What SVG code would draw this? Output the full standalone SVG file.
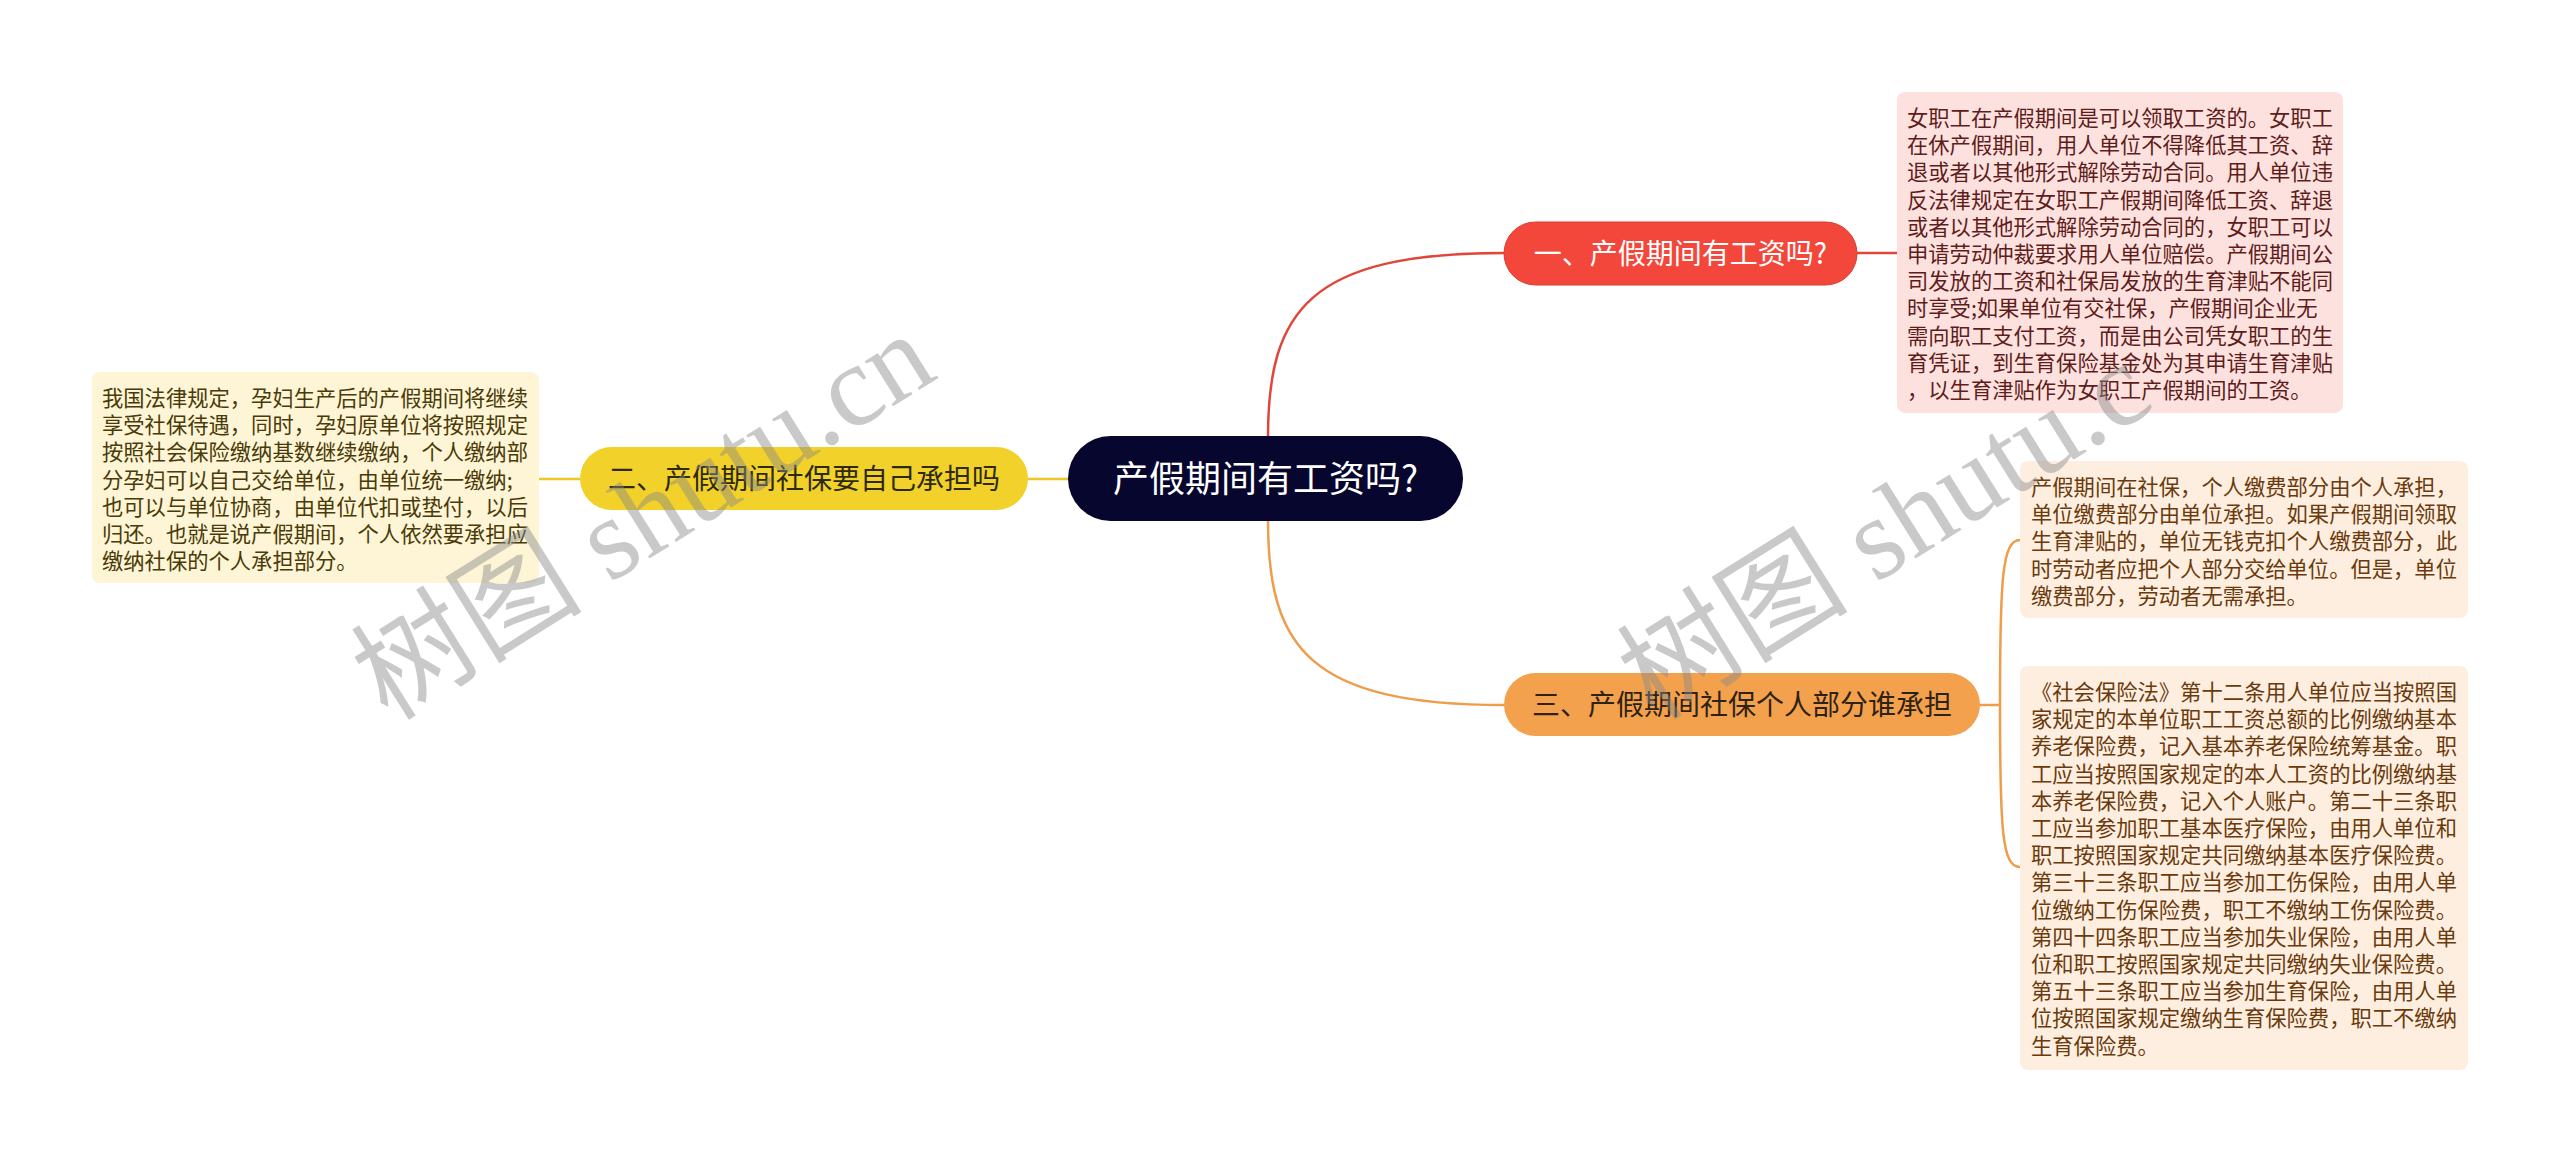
<svg xmlns="http://www.w3.org/2000/svg" width="2560" height="1163" viewBox="0 0 2560 1163">
<style>
.cjk{font-family:"Noto Sans CJK SC","Noto Sans",sans-serif}
.box{font-size:21.3px}
.conn{fill:none;stroke-width:2.5}
.wm{font-family:"Liberation Serif","Noto Sans CJK SC",serif;font-size:116px;fill:#8a8a8a;opacity:0.45}
</style>
<rect x="0" y="0" width="2560" height="1163" fill="#ffffff"/>
<g id="connectors">
<path class="conn" stroke="#e0473b" d="M1268,437 C1268,310 1310,253 1504,253"/>
<path class="conn" stroke="#ee9d4c" d="M1268,521 C1268,648 1310,705 1504,705"/>
<path class="conn" stroke="#ebc824" d="M1068,479 H1028 M580,479 H539"/>
<path class="conn" stroke="#e0473b" d="M1857,253 H1897"/>
<path class="conn" stroke="#ee9d4c" d="M1980,705 H2000 M2000,705 C2000,580 2002,540 2020,540 M2000,705 C2000,830 2002,867 2020,867"/>
</g>
<g id="root">
<rect x="1068" y="436" width="395" height="85" rx="42.5" fill="#06062e"/>
<text class="cjk" x="1265.5" y="492" font-size="36" fill="#ffffff" text-anchor="middle">产假期间有工资吗?</text>
</g>
<g id="n1">
<rect x="1504" y="222" width="353" height="63" rx="31.5" fill="#f3473b" stroke="#dc3b30" stroke-width="1"/>
<text class="cjk" x="1680.5" y="264" font-size="28" fill="#ffffff" text-anchor="middle">一、产假期间有工资吗?</text>
</g>
<g id="n2">
<rect x="580" y="447" width="448" height="63" rx="31.5" fill="#f1d12a"/>
<text class="cjk" x="804" y="489" font-size="28" fill="#2e2a10" text-anchor="middle">二、产假期间社保要自己承担吗</text>
</g>
<g id="n3">
<rect x="1504" y="673" width="476" height="63" rx="31.5" fill="#f4a14d"/>
<text class="cjk" x="1742" y="715" font-size="28" fill="#2e2214" text-anchor="middle">三、产假期间社保个人部分谁承担</text>
</g>
<g id="n1-detail">
<rect x="1897" y="92" width="446" height="321" rx="8" fill="#fde1df"/>
<text class="cjk box" fill="#5e1d1a">
<tspan x="1907" y="126">女职工在产假期间是可以领取工资的。女职工</tspan>
<tspan x="1907" y="153.2">在休产假期间，用人单位不得降低其工资、辞</tspan>
<tspan x="1907" y="180.4">退或者以其他形式解除劳动合同。用人单位违</tspan>
<tspan x="1907" y="207.6">反法律规定在女职工产假期间降低工资、辞退</tspan>
<tspan x="1907" y="234.8">或者以其他形式解除劳动合同的，女职工可以</tspan>
<tspan x="1907" y="262">申请劳动仲裁要求用人单位赔偿。产假期间公</tspan>
<tspan x="1907" y="289.2">司发放的工资和社保局发放的生育津贴不能同</tspan>
<tspan x="1907" y="316.4">时享受;如果单位有交社保，产假期间企业无</tspan>
<tspan x="1907" y="343.6">需向职工支付工资，而是由公司凭女职工的生</tspan>
<tspan x="1907" y="370.8">育凭证，到生育保险基金处为其申请生育津贴</tspan>
<tspan x="1907" y="398">，以生育津贴作为女职工产假期间的工资。</tspan>
</text>
</g>
<g id="n2-detail">
<rect x="92" y="372" width="447" height="211" rx="8" fill="#fdf5d5"/>
<text class="cjk box" fill="#4a3a08">
<tspan x="102" y="406">我国法律规定，孕妇生产后的产假期间将继续</tspan>
<tspan x="102" y="433.2">享受社保待遇，同时，孕妇原单位将按照规定</tspan>
<tspan x="102" y="460.4">按照社会保险缴纳基数继续缴纳，个人缴纳部</tspan>
<tspan x="102" y="487.6">分孕妇可以自己交给单位，由单位统一缴纳;</tspan>
<tspan x="102" y="514.8">也可以与单位协商，由单位代扣或垫付，以后</tspan>
<tspan x="102" y="542">归还。也就是说产假期间，个人依然要承担应</tspan>
<tspan x="102" y="569.2">缴纳社保的个人承担部分。</tspan>
</text>
</g>
<g id="n3-detail-1">
<rect x="2020" y="461" width="448" height="157" rx="8" fill="#fdeee0"/>
<text class="cjk box" fill="#6b3a0c">
<tspan x="2031" y="495">产假期间在社保，个人缴费部分由个人承担，</tspan>
<tspan x="2031" y="522.2">单位缴费部分由单位承担。如果产假期间领取</tspan>
<tspan x="2031" y="549.4">生育津贴的，单位无钱克扣个人缴费部分，此</tspan>
<tspan x="2031" y="576.6">时劳动者应把个人部分交给单位。但是，单位</tspan>
<tspan x="2031" y="603.8">缴费部分，劳动者无需承担。</tspan>
</text>
</g>
<g id="n3-detail-2">
<rect x="2020" y="666" width="448" height="404" rx="8" fill="#fdeee0"/>
<text class="cjk box" fill="#6b3a0c">
<tspan x="2031" y="700">《社会保险法》第十二条用人单位应当按照国</tspan>
<tspan x="2031" y="727.2">家规定的本单位职工工资总额的比例缴纳基本</tspan>
<tspan x="2031" y="754.4">养老保险费，记入基本养老保险统筹基金。职</tspan>
<tspan x="2031" y="781.6">工应当按照国家规定的本人工资的比例缴纳基</tspan>
<tspan x="2031" y="808.8">本养老保险费，记入个人账户。第二十三条职</tspan>
<tspan x="2031" y="836">工应当参加职工基本医疗保险，由用人单位和</tspan>
<tspan x="2031" y="863.2">职工按照国家规定共同缴纳基本医疗保险费。</tspan>
<tspan x="2031" y="890.4">第三十三条职工应当参加工伤保险，由用人单</tspan>
<tspan x="2031" y="917.6">位缴纳工伤保险费，职工不缴纳工伤保险费。</tspan>
<tspan x="2031" y="944.8">第四十四条职工应当参加失业保险，由用人单</tspan>
<tspan x="2031" y="972">位和职工按照国家规定共同缴纳失业保险费。</tspan>
<tspan x="2031" y="999.2">第五十三条职工应当参加生育保险，由用人单</tspan>
<tspan x="2031" y="1026.4">位按照国家规定缴纳生育保险费，职工不缴纳</tspan>
<tspan x="2031" y="1053.6">生育保险费。</tspan>
</text>
</g>
<g id="watermarks">
<text class="wm" transform="translate(388,722) rotate(-32)">树图 shutu.cn</text>
<text class="wm" transform="translate(1654,722) rotate(-32)">树图 shutu.c</text>
</g>
</svg>
